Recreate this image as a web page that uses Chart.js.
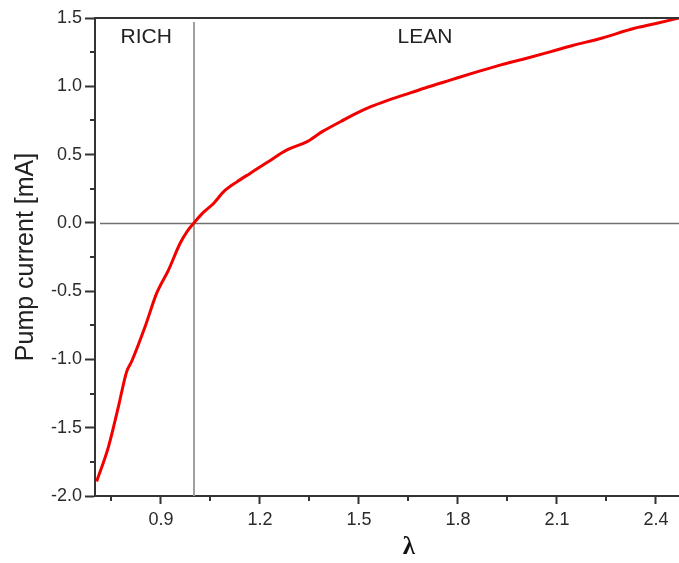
<!DOCTYPE html>
<html>
<head>
<meta charset="utf-8">
<script src="https://cdn.jsdelivr.net/npm/chart.js@4/dist/chart.umd.min.js"></script>
<style>
html,body{margin:0;padding:0;background:#fff;}
#wrap{width:679px;height:563px;}
</style>
</head>
<body>
<div id="wrap"><canvas id="c" width="679" height="563"></canvas></div>
<script>
// ---- data ----
const lambdaValues = [0.705,0.741,0.771,0.796,0.811,0.852,0.887,0.923,0.958,0.98,1.0,1.03,1.06,1.09,1.13,1.171,1.22,1.282,1.343,1.39,1.445,1.49,1.536,1.585,1.637,1.698,1.779,1.85,1.93,2.0,2.082,2.15,2.235,2.335,2.4,2.47];
const currentValues = [-1.894,-1.638,-1.345,-1.089,-1.015,-0.759,-0.515,-0.344,-0.149,-0.06,0.0,0.08,0.144,0.229,0.30,0.364,0.44,0.534,0.595,0.67,0.742,0.80,0.851,0.895,0.937,0.986,1.047,1.10,1.157,1.20,1.254,1.30,1.352,1.425,1.46,1.5];
const xMajorTicks = [0.9,1.2,1.5,1.8,2.1,2.4];
const xMinorTicks = [0.75,1.05,1.35,1.65,1.95,2.25];
const yMajorTicks = [-2.0,-1.5,-1.0,-0.5,0.0,0.5,1.0,1.5];
const yMinorTicks = [-1.75,-1.25,-0.75,-0.25,0.25,0.75,1.25];
const regionLabels = ['RICH','LEAN'];
const regionLabelX = [0.855,1.7];
const regionLabelY = [1.36,1.36];
const stoichLambda = 1.0;
const zeroCurrent = 0.0;
const xRange = [0.7, 2.47];
const yRange = [-2.0, 1.5];

const points = lambdaValues.map((l,i)=>({x:l, y:currentValues[i]}));

const decorPlugin = {
  id:'decor',
  beforeDatasetsDraw(chart){
    const {ctx, chartArea:a, scales:{x,y}} = chart;
    ctx.save();
    ctx.strokeStyle = '#a0a0a0';
    ctx.lineWidth = 2;
    const vx = Math.round(x.getPixelForValue(stoichLambda));
    ctx.beginPath(); ctx.moveTo(vx, a.top+4); ctx.lineTo(vx, a.bottom); ctx.stroke();
    ctx.strokeStyle = '#707070';
    ctx.lineWidth = 1.3;
    const zy = Math.round(y.getPixelForValue(zeroCurrent))+0.5;
    ctx.beginPath(); ctx.moveTo(a.left+5, zy); ctx.lineTo(a.right, zy); ctx.stroke();
    ctx.fillStyle = '#222';
    ctx.font = '21px "Liberation Sans", Arial, sans-serif';
    ctx.textAlign = 'center';
    ctx.textBaseline = 'middle';
    regionLabels.forEach((t,i)=>{
      ctx.fillText(t, x.getPixelForValue(regionLabelX[i]), y.getPixelForValue(regionLabelY[i]));
    });
    ctx.restore();
  },
  afterDraw(chart){
    const {ctx, chartArea:a, scales:{x,y}} = chart;
    ctx.save();
    ctx.strokeStyle = '#333';
    ctx.lineWidth = 2;
    ctx.beginPath(); ctx.moveTo(a.left-1, a.top); ctx.lineTo(a.right, a.top); ctx.stroke();
    xMinorTicks.forEach(v=>{
      const px = Math.round(x.getPixelForValue(v));
      ctx.beginPath(); ctx.moveTo(px, a.bottom); ctx.lineTo(px, a.bottom+5); ctx.stroke();
    });
    yMinorTicks.forEach(v=>{
      const py = Math.round(y.getPixelForValue(v));
      ctx.beginPath(); ctx.moveTo(a.left, py); ctx.lineTo(a.left-5, py); ctx.stroke();
    });
    ctx.restore();
  }
};

new Chart(document.getElementById('c'), {
  type:'line',
  data:{
    datasets:[{
      data: points,
      borderColor:'#f20000',
      borderWidth:3,
      pointRadius:0,
      cubicInterpolationMode:'monotone',
      fill:false
    }]
  },
  options:{
    responsive:false,
    animation:false,
    devicePixelRatio:1,
    layout:{padding:{top:18,right:0,left:0,bottom:0}},
    plugins:{legend:{display:false},tooltip:{enabled:false}},
    scales:{
      x:{
        type:'linear',
        min:xRange[0], max:xRange[1],
        afterBuildTicks(s){ s.ticks = xMajorTicks.map(v=>({value:v})); },
        afterFit(s){ s.height = 67; },
        grid:{drawOnChartArea:false, tickLength:8, tickWidth:2, tickColor:'#333'},
        border:{display:true, color:'#333', width:2},
        ticks:{
          color:'#2a2a2a', padding:5, maxRotation:0, autoSkip:false,
          font:{family:'"Liberation Sans", Arial, sans-serif', size:18},
          callback:v=>Number(v).toFixed(1)
        },
        title:{
          display:true, text:'       λ', color:'#111',
          font:{family:'"Liberation Serif", "Times New Roman", serif', size:25, weight:'bold'},
          padding:{top:0,bottom:0}
        }
      },
      y:{
        type:'linear',
        min:yRange[0], max:yRange[1],
        afterBuildTicks(s){ s.ticks = yMajorTicks.map(v=>({value:v})); },
        afterFit(s){ s.width = 95; },
        grid:{drawOnChartArea:false, tickLength:10, tickWidth:2, tickColor:'#333'},
        border:{display:true, color:'#333', width:2},
        ticks:{
          color:'#2a2a2a', padding:3, autoSkip:false,
          font:{family:'"Liberation Sans", Arial, sans-serif', size:18},
          callback:v=>Number(v).toFixed(1)
        },
        title:{
          display:true, text:'Pump current [mA]', color:'#222',
          font:{family:'"Liberation Sans", Arial, sans-serif', size:25},
          padding:{top:11,bottom:0}
        }
      }
    }
  },
  plugins:[decorPlugin]
});
</script>
</body>
</html>
